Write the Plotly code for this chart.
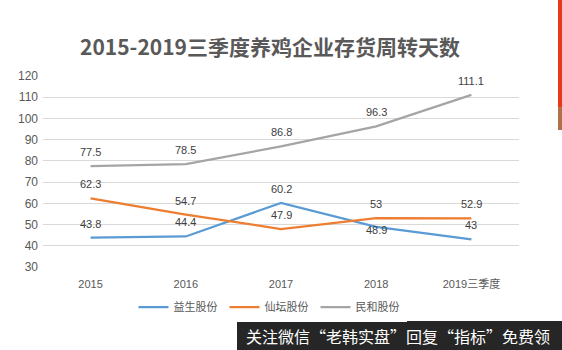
import plotly.graph_objects as go

categories = ["2015", "2016", "2017", "2018", "2019三季度"]
yisheng = [43.8, 44.4, 60.2, 48.9, 43.0]
xiantan = [62.3, 54.7, 47.9, 53.0, 52.9]
minhe = [77.5, 78.5, 86.8, 96.3, 111.1]
series_names = ["益生股份", "仙坛股份", "民和股份"]
yisheng_labels = ["43.8", "44.4", "60.2", "48.9", "43"]
xiantan_labels = ["62.3", "54.7", "47.9", "53", "52.9"]
minhe_labels = ["77.5", "78.5", "86.8", "96.3", "111.1"]
title_text = "2015-2019三季度养鸡企业存货周转天数"
watermark = "关注微信“老韩实盘”回复“指标”免费领"

W, H = 562, 350
L, R, T, B = 43, 519, 76, 267  # plot area in pixels


def px_x(x):
    return (x - L) / (R - L)


def px_y(y):
    return (B - y) / (B - T)


colors = ["#5B9BD5", "#ED7D31", "#A5A5A5"]
label_font = dict(family="Liberation Sans, Arial", size=11, color="#404040")

fig = go.Figure()
series = [
    (yisheng, yisheng_labels, series_names[0], colors[0], [14, 14, 14, -3, 14]),
    (xiantan, xiantan_labels, series_names[1], colors[1], [14] * 5),
    (minhe, minhe_labels, series_names[2], colors[2], [14] * 5),
]
for vals, labs, name, col, shifts in series:
    fig.add_trace(go.Scatter(
        x=categories, y=vals, name=name, mode="lines",
        line=dict(color=col, width=2.25),
    ))
    for i, (v, t, s) in enumerate(zip(vals, labs, shifts)):
        fig.add_annotation(x=i, y=v, text=t, showarrow=False, yshift=s,
                           xanchor="center", yanchor="middle", font=label_font)

fig.update_layout(
    width=W, height=H,
    margin=dict(l=L, r=W - R, t=T, b=H - B),
    paper_bgcolor="white", plot_bgcolor="white",
    title=dict(text="<b>" + title_text + "</b>", x=270 / W, xanchor="center",
               y=1 - 48 / H, yanchor="middle", yref="container",
               font=dict(family="Noto Sans CJK SC", size=21, color="#595959")),
    xaxis=dict(type="category", showgrid=False, showline=False, ticks="",
               tickfont=dict(family="Liberation Sans, Noto Sans CJK SC", size=11, color="#595959"),
               range=[-0.5, 4.5], ticklabelstandoff=9),
    yaxis=dict(range=[30, 120], dtick=10, showgrid=True, gridcolor="#D9D9D9",
               gridwidth=1, zeroline=False, showline=False, ticks="",
               tickfont=dict(family="Liberation Sans, Arial", size=12, color="#595959"),
               ticklabelstandoff=4),
    showlegend=True,
    legend=dict(orientation="h", x=px_x(270), xanchor="center", y=px_y(307),
                yanchor="middle", font=dict(family="Noto Sans CJK SC", size=11, color="#595959"),
                entrywidth=46, entrywidthmode="pixels", tracegroupgap=0),
)

# watermark box
fig.add_shape(type="rect", xref="paper", yref="paper",
              x0=px_x(237), x1=px_x(565), y0=px_y(353), y1=px_y(321),
              fillcolor="#262626", line=dict(width=0), layer="above")
fig.add_annotation(xref="paper", yref="paper", x=px_x(398), y=px_y(336),
                   text=watermark, showarrow=False, xanchor="center", yanchor="middle",
                   font=dict(family="Noto Sans CJK SC", size=16, color="white"))
# red side bar
fig.add_shape(type="rect", xref="paper", yref="paper",
              x0=px_x(558), x1=px_x(565), y0=px_y(107), y1=px_y(-3),
              fillcolor="#E8381A", line=dict(width=0), layer="above")
fig.add_shape(type="rect", xref="paper", yref="paper",
              x0=px_x(558), x1=px_x(565), y0=px_y(130), y1=px_y(107),
              fillcolor="#B0704A", line=dict(width=0), layer="above")

fig.write_html("out.html")
